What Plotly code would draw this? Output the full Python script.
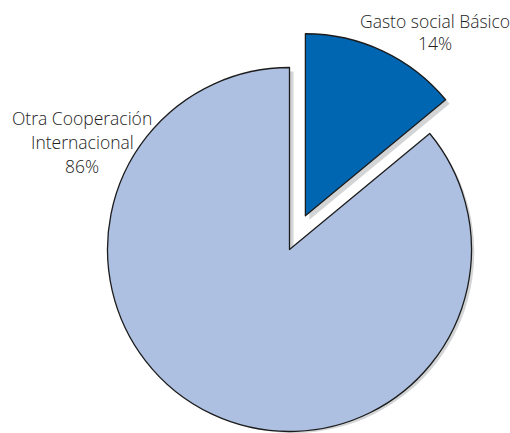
import math
import plotly.graph_objects as go

# Shares of spending
labels = ["Gasto social Básico", "Otra Cooperación Internacional"]
values = [14, 86]
label_lines = [["Gasto social Básico", "14%"],
               ["Otra Cooperación", "Internacional", "86%"]]

W, H = 510, 433
CX, CY, R = 289.5, 249.5, 182.0   # centre and radius of the pie in pixels
PULL = 0.205                      # offset of the detached slice, fraction of radius
SHADOW = (4.0, 4.0)               # drop-shadow offset in pixels

BLUE = "#0066b2"
LIGHT = "#adc0e1"
SHADE = "#d3d4d6"
EDGE = "#1c1c1c"
CLEAR = "rgba(0,0,0,0)"


def domain(cx, cy, r):
    """Paper-fraction domain for a pie centred at (cx, cy) px with radius r px."""
    x0, x1 = max(cx - r, 0), min(cx + r, W)
    y0, y1 = max(cy - r, 0), min(cy + r, H)
    return dict(x=[x0 / W, x1 / W], y=[1 - y1 / H, 1 - y0 / H])


# direction of the detached slice: middle of its angular span, clockwise from 12 o'clock
frac = values[0] / sum(values)
mid = 2 * math.pi * frac / 2
dx, dy = PULL * R * math.sin(mid), -PULL * R * math.cos(mid)
bx, by = CX + dx, CY + dy

common = dict(
    labels=labels, values=values, sort=False, direction="clockwise",
    rotation=0, textinfo="none", hoverinfo="skip", showlegend=False,
)

fig = go.Figure()
# shadows
fig.add_trace(go.Pie(**common, domain=domain(CX + SHADOW[0], CY + SHADOW[1], R),
                     marker=dict(colors=[CLEAR, SHADE], line=dict(width=0))))
fig.add_trace(go.Pie(**common, domain=domain(bx + SHADOW[0], by + SHADOW[1], R),
                     marker=dict(colors=[SHADE, CLEAR], line=dict(width=0))))
# main body
fig.add_trace(go.Pie(**common, domain=domain(CX, CY, R),
                     marker=dict(colors=[CLEAR, LIGHT],
                                 line=dict(color=[CLEAR, EDGE], width=1.3))))
# detached slice
fig.add_trace(go.Pie(**common, domain=domain(bx, by, R),
                     marker=dict(colors=[BLUE, CLEAR],
                                 line=dict(color=[EDGE, CLEAR], width=1.3))))

font = dict(family="'Open Sans', Lato, sans-serif", size=17.5, color="#222222", weight=300)
# label blocks: (centre x px, first-line y px, line step px)
placements = [(435, 21, 21.5), (82, 118, 24)]
for lines, (x, y0, step) in zip(label_lines, placements):
    for i, line in enumerate(lines):
        fig.add_annotation(text=line, x=x / W, y=1 - (y0 + i * step) / H,
                           xref="paper", yref="paper", xanchor="center", yanchor="middle",
                           showarrow=False, font=font)

fig.update_layout(
    width=W, height=H, margin=dict(l=0, r=0, t=0, b=0),
    paper_bgcolor="white", plot_bgcolor="white",
)

fig.write_html("out.html")
